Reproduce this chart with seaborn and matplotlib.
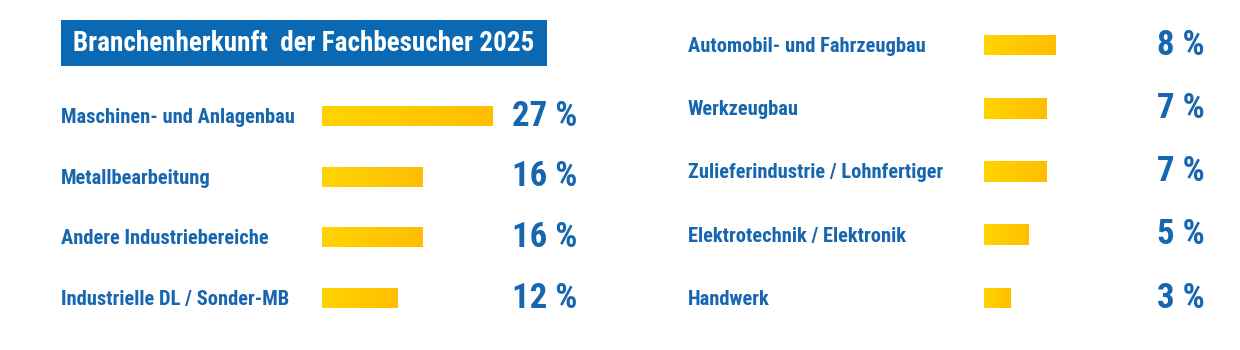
import matplotlib
matplotlib.use("Agg")
import matplotlib.pyplot as plt
import matplotlib.transforms as mtransforms
from matplotlib import font_manager
from matplotlib.patches import Rectangle
from matplotlib.colors import LinearSegmentedColormap
import numpy as np
import pandas as pd
import seaborn as sns

# ---------------- data ----------------
title = "Branchenherkunft  der Fachbesucher 2025"
left_categories = ["Maschinen- und Anlagenbau", "Metallbearbeitung",
                   "Andere Industriebereiche", "Industrielle DL / Sonder-MB"]
left_values = [27, 16, 16, 12]
right_categories = ["Automobil- und Fahrzeugbau", "Werkzeugbau",
                    "Zulieferindustrie / Lohnfertiger",
                    "Elektrotechnik / Elektronik", "Handwerk"]
right_values = [8, 7, 7, 5, 3]

# ---------------- style ----------------
sns.set_theme(style="white")
cands = ["Liberation Sans Narrow", "Roboto Condensed", "Open Sans Condensed",
         "Roboto", "DejaVu Sans"]
font = "DejaVu Sans"
for c in cands:
    try:
        font_manager.findfont(c, fallback_to_default=False)
        font = c
        break
    except Exception:
        pass
plt.rcParams["font.family"] = [font, "DejaVu Sans"]

BLUE_TXT = "#1766b0"
BLUE_BOX = "#0a69b2"
cmap = LinearSegmentedColormap.from_list("ygrad", ["#ffd400", "#ffbe00"])

W, H = 1240, 350
fig = plt.figure(figsize=(W / 100, H / 100), dpi=100)
fig.patch.set_facecolor("white")


def px_axes(x0, x1, ytop, ybot):
    return fig.add_axes([x0 / W, 1 - ybot / H, (x1 - x0) / W, (ybot - ytop) / H])


def draw_column(cats, vals, bar_x0, px_per_unit, row_top, row_step, label_x, pct_x):
    n = len(cats)
    xmax = 30
    ax = px_axes(bar_x0, bar_x0 + xmax * px_per_unit,
                 row_top - row_step / 2, row_top + row_step * (n - 0.5))
    df = pd.DataFrame({"cat": cats, "val": vals})
    sns.barplot(data=df, x="val", y="cat", orient="h", width=0.33,
                color="#ffc800", ax=ax, linewidth=0)
    ax.set_xlim(0, xmax)
    ax.set_ylim(n - 0.5, -0.5)
    ax.axis("off")
    grad = np.linspace(0, 1, 256).reshape(1, -1)
    for p in ax.patches:
        p.set_facecolor("none")
        x, y = p.get_x(), p.get_y()
        w, h = p.get_width(), p.get_height()
        im = ax.imshow(grad, cmap=cmap, aspect="auto",
                       extent=[x, x + w, y + h, y], zorder=2)
        im.set_clip_path(p)
    ax.set_xlim(0, xmax)
    ax.set_ylim(n - 0.5, -0.5)
    tr = mtransforms.blended_transform_factory(fig.transFigure, ax.transData)
    for i, (c, v) in enumerate(zip(cats, vals)):
        ax.annotate(c, xy=(label_x / W, i), xycoords=tr,
                    xytext=(0, -5), textcoords="offset points",
                    ha="left", va="baseline", color=BLUE_TXT,
                    fontsize=14.8, fontweight="bold", annotation_clip=False)
        ax.annotate(f"{v} %", xy=(pct_x / W, i), xycoords=tr,
                    xytext=(0, -7), textcoords="offset points",
                    ha="right", va="baseline", color=BLUE_TXT,
                    fontsize=25, fontweight="bold", annotation_clip=False)
    return ax


draw_column(left_categories, left_values, 322, 6.3, 116, 60.7, 61, 577)
draw_column(right_categories, right_values, 984, 8.9, 45, 63.25, 688, 1205)

# title box
fig.patches.append(Rectangle((61 / W, 1 - 66 / H), (547 - 61) / W, 46 / H,
                             transform=fig.transFigure, facecolor=BLUE_BOX,
                             edgecolor="none", zorder=0))
fig.text(73 / W, 1 - 51 / H, title, color="white", fontsize=19.5,
         fontweight="bold", ha="left", va="baseline")

fig.savefig("out.png", dpi=100, facecolor="white")
